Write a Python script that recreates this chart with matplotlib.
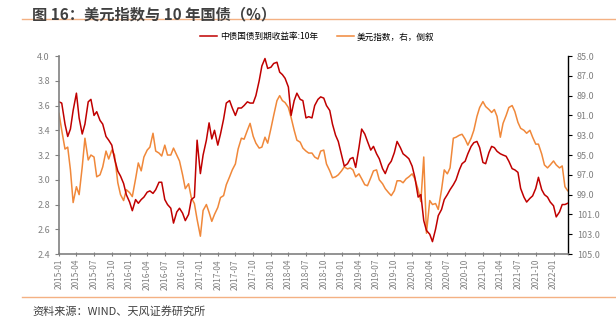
import matplotlib
matplotlib.use("Agg")
import matplotlib.pyplot as plt
import matplotlib.dates as mdates
import pandas as pd

plt.rcParams['font.family'] = ['Noto Sans CJK SC', 'DejaVu Sans']

# semi-monthly readings, 2015-01-01 .. 2022-03-15
dates = pd.date_range('2015-01-01', periods=174, freq='SMS')

cgb_10y = [
    3.63, 3.62, 3.45, 3.35, 3.41, 3.56, 3.70, 3.50, 3.37, 3.45,
    3.63, 3.65, 3.52, 3.55, 3.48, 3.45, 3.35, 3.32, 3.28, 3.17,
    3.07, 3.03, 2.97, 2.88, 2.82, 2.75, 2.84, 2.81, 2.84, 2.86,
    2.90, 2.91, 2.89, 2.92, 2.98, 2.98, 2.84, 2.80, 2.77, 2.65,
    2.74, 2.77, 2.73, 2.67, 2.72, 2.84, 2.86, 3.32, 3.05, 3.20,
    3.32, 3.46, 3.33, 3.40, 3.28, 3.37, 3.49, 3.62, 3.64, 3.58,
    3.52, 3.58, 3.58, 3.60, 3.63, 3.62, 3.62, 3.68, 3.80, 3.92,
    3.98, 3.90, 3.91, 3.94, 3.95, 3.87, 3.85, 3.82, 3.75, 3.52,
    3.64, 3.70, 3.65, 3.64, 3.50, 3.51, 3.50, 3.60, 3.65, 3.67,
    3.66, 3.60, 3.56, 3.45, 3.36, 3.31, 3.20, 3.11, 3.13, 3.17,
    3.18, 3.10, 3.26, 3.41, 3.37, 3.31, 3.24, 3.27, 3.21, 3.17,
    3.09, 3.05, 3.12, 3.15, 3.22, 3.31, 3.26, 3.21, 3.19, 3.17,
    3.11, 3.02, 2.86, 2.88, 2.67, 2.59, 2.56, 2.50, 2.60, 2.71,
    2.76, 2.84, 2.88, 2.92, 2.96, 3.00, 3.08, 3.13, 3.15, 3.21,
    3.27, 3.30, 3.31, 3.26, 3.14, 3.13, 3.22, 3.27, 3.26, 3.23,
    3.21, 3.20, 3.19, 3.15, 3.09, 3.08, 3.06, 2.93, 2.86, 2.82,
    2.85, 2.87, 2.93, 3.02, 2.92, 2.88, 2.86, 2.82, 2.79, 2.70,
    2.74, 2.80, 2.80, 2.81,
]

dxy = [
    90.8, 92.5, 94.4, 94.2, 96.5, 99.8, 98.2, 99.0, 96.2, 93.3,
    95.5, 95.0, 95.2, 97.2, 97.0, 96.2, 94.6, 95.4, 94.5, 95.0,
    97.8, 99.0, 99.6, 98.5, 98.8, 99.2, 97.4, 95.8, 96.6, 95.2,
    94.5, 94.2, 92.8, 94.6, 94.8, 95.1, 94.0, 95.0, 95.0, 94.3,
    95.0, 95.6, 97.0, 98.4, 97.9, 99.3, 99.9, 101.5, 103.2, 100.6,
    100.0, 100.8, 101.7, 101.0, 100.3, 99.3, 99.1, 98.0, 97.2, 96.5,
    95.9, 94.4, 93.3, 93.4, 92.5, 91.8, 93.1, 93.8, 94.3, 94.2,
    93.2, 93.8, 92.3, 91.0, 89.5, 89.0, 89.5, 89.7, 90.2, 91.2,
    92.5, 93.5, 93.7, 94.3, 94.6, 94.8, 94.8, 95.2, 95.4, 94.6,
    94.5, 95.9, 96.6, 97.3, 97.2, 97.0, 96.6, 96.2, 96.4, 96.3,
    96.5, 97.2, 96.9, 97.4, 98.0, 98.1, 97.3, 96.6, 96.5, 97.5,
    97.9, 98.4, 98.8, 99.1, 98.6, 97.6, 97.6, 97.8, 97.4, 97.2,
    96.9, 97.4, 98.5, 99.7, 95.2, 102.9, 99.6, 100.0, 99.9, 100.5,
    98.5, 96.5, 96.9, 96.3, 93.3, 93.2, 93.0, 92.9, 93.4, 94.0,
    93.3, 92.5, 91.1, 90.2, 89.6, 90.1, 90.4, 90.7, 90.4, 91.1,
    93.2, 91.8, 91.0, 90.2, 90.0, 90.6, 91.7, 92.3, 92.5, 92.8,
    92.5, 93.2, 93.9, 93.9, 94.9, 96.0, 96.3, 96.0, 95.6, 96.0,
    96.3, 96.1, 98.2, 98.6,
]

red = '#C00000'
orange = '#F0883A'
grey = '#808080'

fig = plt.figure(figsize=(6.16, 3.24), dpi=100)
ax = fig.add_axes([0.0958, 0.216, 0.826, 0.611])
ax2 = ax.twinx()

l1, = ax.plot(dates, cgb_10y, color=red, lw=1.1, label='中债国债到期收益率:10年')
l2, = ax2.plot(dates, dxy, color=orange, lw=1.1, label='美元指数，右，倒叙')
ax.set_zorder(ax2.get_zorder() + 1)
ax.patch.set_visible(False)

ax.set_xlim(pd.Timestamp('2015-01-01'), pd.Timestamp('2022-03-16'))
ax.set_ylim(2.4, 4.0)
ax.set_yticks([2.4 + 0.2 * i for i in range(9)])
ax.yaxis.set_major_formatter(plt.FormatStrFormatter('%.1f'))
ax2.set_ylim(105, 85)
ax2.set_yticks(list(range(85, 106, 2)))
ax2.yaxis.set_major_formatter(plt.FormatStrFormatter('%.1f'))

ax.xaxis.set_major_locator(mdates.MonthLocator(bymonth=[1, 4, 7, 10]))
ax.xaxis.set_major_formatter(mdates.DateFormatter('%Y-%m'))
for lab in ax.get_xticklabels():
    lab.set_rotation(90)

for a in (ax, ax2):
    a.spines['top'].set_visible(False)
ax.spines['right'].set_visible(False)
ax2.spines['left'].set_visible(False)
ax2.spines['bottom'].set_visible(False)
ax.spines['left'].set_color(grey)
ax.spines['bottom'].set_color(grey)
ax.spines['left'].set_linewidth(1.2)
ax.spines['bottom'].set_linewidth(1.2)
ax2.spines['right'].set_color('black')
ax2.spines['right'].set_linewidth(1.0)

ax.tick_params(axis='y', labelsize=6.5, colors=grey, length=3, width=0.8)
ax.tick_params(axis='x', labelsize=6, colors=grey, length=3, width=0.8, direction='inout', pad=2)
ax2.tick_params(axis='y', labelsize=6.5, colors=grey, length=3, width=0.8)
ax2.tick_params(axis='y', color='black')

fig.legend(handles=[l1, l2], loc='center', bbox_to_anchor=(0.515, 0.886), ncol=2,
           frameon=False, fontsize=6.2, handlelength=2.0, columnspacing=2.2,
           handletextpad=0.3)

fig.text(0.052, 0.955, '图 16：美元指数与 10 年国债（%）', fontsize=11, fontweight='bold',
         color='#404040', va='center')
fig.add_artist(plt.Line2D([0.036, 1.0], [0.941, 0.941], color='#F4B183', lw=1.0))
fig.add_artist(plt.Line2D([0.036, 1.0], [0.083, 0.083], color='#F4B183', lw=1.0))
fig.text(0.052, 0.04, '资料来源：WIND、天风证券研究所', fontsize=8, color='#404040', va='center')

fig.savefig('out.png', dpi=100)
